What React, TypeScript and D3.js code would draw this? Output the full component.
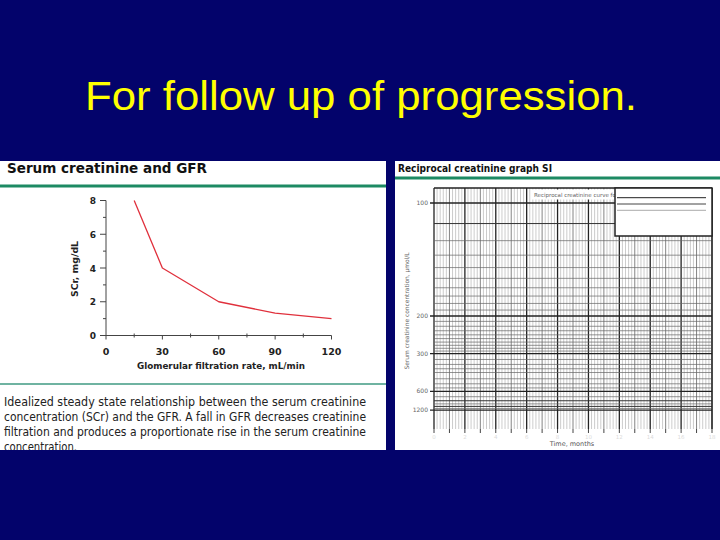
import * as d3 from "d3";

// slide text
const slideTitle = "For follow up of progression.";
const leftTitle = "Serum creatinine and GFR";
const rightTitle = "Reciprocal creatinine graph SI";
const caption = [
  "Idealized steady state relationship between the serum creatinine",
  "concentration (SCr) and the GFR. A fall in GFR decreases creatinine",
  "filtration and produces a proportionate rise in the serum creatinine",
  "concentration.",
];

// left chart: SCr vs GFR
const gfr = [15, 30, 60, 90, 120];
const scr = [8, 4, 2, 1.33, 1];
const gfrTicks = [0, 30, 60, 90, 120];
const gfrMinor = [15, 45, 75, 105];
const scrTicks = [0, 2, 4, 6, 8];
const scrMinor = [1, 3, 5, 7];

// right chart: reciprocal creatinine grid (umol/L)
const concLabels = [100, 200, 300, 600, 1200];
const concMedium = [110, 800, 1000];
const concGrid = [
  120, 130, 140, 150, 160, 170, 180, 190,
  210, 220, 230, 240, 250, 260, 270, 280, 290,
  325, 350, 375, 400, 450, 500, 550,
  700, 900, 1100,
];
const monthDomain = [0, 18];
const monthLabels = [0, 2, 4, 6, 8, 10, 12, 14, 16, 18];

const NAVY = "#03036b";
const GREEN = "#1c8a63";
const SANS = "'DejaVu Sans', Verdana, sans-serif";

export default function App() {
  // left scales
  const x = d3.scaleLinear().domain([0, 120]).range([106, 331.5]);
  const y = d3.scaleLinear().domain([0, 8]).range([335.5, 200.5]);
  const path =
    d3
      .line<number>()
      .x((_, i) => x(gfr[i]))
      .y((d) => y(d))(scr) || "";

  // right scales: linear in 1/concentration
  const t = d3.scaleLinear().domain(monthDomain).range([434, 712]);
  const r = d3.scaleLinear().domain([0, 0.010664]).range([429, 188]);
  const cy = (c: number) => r(1 / c);
  const monthLines = t.ticks(90);
  const months = t.ticks(18);

  return (
    <svg
      width={720}
      height={540}
      style={{ position: "fixed", left: 0, top: 0 }}
    >
      <defs>
        <clipPath id="leftClip">
          <rect x={0} y={161} width={386} height={289} />
        </clipPath>
        <clipPath id="rightClip">
          <rect x={395} y={161} width={325} height={289} />
        </clipPath>
      </defs>
      <rect width={720} height={540} fill={NAVY} />
      <text
        x={85}
        y={110}
        fill="#ffff00"
        fontFamily="'Liberation Sans', Arial, sans-serif"
        fontSize={40}
        textLength={552}
        lengthAdjust="spacingAndGlyphs"
      >
        {slideTitle}
      </text>

      {/* left panel */}
      <g clipPath="url(#leftClip)">
        <rect x={0} y={161} width={386} height={289} fill="#fff" />
        <text
          x={7}
          y={173}
          fontFamily={SANS}
          fontWeight="bold"
          fontSize={13.5}
          fill="#111"
          textLength={200}
          lengthAdjust="spacingAndGlyphs"
        >
          {leftTitle}
        </text>
        <line x1={0} x2={386} y1={186} y2={186} stroke={GREEN} strokeWidth={3} />

        <line x1={x(0)} x2={x(120)} y1={y(0)} y2={y(0)} stroke="#444" />
        <line x1={x(0)} x2={x(0)} y1={y(0)} y2={y(8)} stroke="#444" />
        {scrTicks.map((v) => (
          <g key={"yt" + v}>
            <line x1={x(0) - 6} x2={x(0)} y1={y(v)} y2={y(v)} stroke="#444" />
            <text
              x={x(0) - 13}
              y={y(v) + 3.5}
              textAnchor="middle"
              fontFamily={SANS}
              fontWeight="bold"
              fontSize={9}
              fill="#222"
            >
              {v}
            </text>
          </g>
        ))}
        {scrMinor.map((v) => (
          <line key={"ym" + v} x1={x(0) - 3} x2={x(0)} y1={y(v)} y2={y(v)} stroke="#444" />
        ))}
        {gfrTicks.map((v) => (
          <g key={"xt" + v}>
            <line x1={x(v)} x2={x(v)} y1={y(0)} y2={y(0) + 4} stroke="#444" />
            <text
              x={x(v)}
              y={y(0) + 19}
              textAnchor="middle"
              fontFamily={SANS}
              fontWeight="bold"
              fontSize={9.5}
              fill="#222"
            >
              {v}
            </text>
          </g>
        ))}
        {gfrMinor.map((v) => (
          <line key={"xm" + v} x1={x(v)} x2={x(v)} y1={y(0) - 2} y2={y(0) + 2} stroke="#444" />
        ))}
        <text
          transform={`translate(78,269) rotate(-90)`}
          textAnchor="middle"
          fontFamily={SANS}
          fontWeight="bold"
          fontSize={9.5}
          fill="#222"
          textLength={56}
          lengthAdjust="spacingAndGlyphs"
        >
          SCr, mg/dL
        </text>
        <text
          x={221}
          y={369}
          textAnchor="middle"
          fontFamily={SANS}
          fontWeight="bold"
          fontSize={9.5}
          fill="#222"
          textLength={168}
          lengthAdjust="spacingAndGlyphs"
        >
          Glomerular filtration rate, mL/min
        </text>
        <path d={path} fill="none" stroke="#e0303c" strokeWidth={1.3} strokeLinejoin="round" />

        <line x1={0} x2={386} y1={384} y2={384} stroke="#3f9a82" strokeWidth={1.5} />
        {caption.map((c, i) => (
          <text
            key={"cap" + i}
            x={4}
            y={406 + i * 15}
            fontFamily={SANS}
            fontSize={12.5}
            fill="#222"
            textLength={i === 3 ? 73 : 362}
            lengthAdjust="spacingAndGlyphs"
          >
            {c}
          </text>
        ))}
      </g>

      {/* right panel */}
      <g clipPath="url(#rightClip)">
        <rect x={395} y={161} width={325} height={289} fill="#fff" />
        <text
          x={398}
          y={172}
          fontFamily={SANS}
          fontWeight="bold"
          fontSize={10}
          fill="#111"
          textLength={154}
          lengthAdjust="spacingAndGlyphs"
        >
          {rightTitle}
        </text>
        <line x1={395} x2={720} y1={178} y2={178} stroke={GREEN} strokeWidth={3} />

        {monthLines.map((m, i) => {
          const whole = Math.abs(m - Math.round(m)) < 1e-6;
          const even = whole && Math.round(m) % 2 === 0;
          return (
            <line
              key={"v" + i}
              x1={t(m)}
              x2={t(m)}
              y1={188}
              y2={429}
              stroke={even ? "#222" : whole ? "#777" : "#aaa"}
              strokeWidth={even ? 1.3 : whole ? 0.9 : 0.6}
            />
          );
        })}
        {concGrid.map((c) => (
          <line key={"h" + c} x1={434} x2={712} y1={cy(c)} y2={cy(c)} stroke="#666" strokeWidth={0.7} />
        ))}
        {concMedium.map((c) => (
          <line key={"hm" + c} x1={434} x2={712} y1={cy(c)} y2={cy(c)} stroke="#333" strokeWidth={1} />
        ))}
        {concLabels.map((c) => (
          <g key={"hl" + c}>
            <line x1={430} x2={712} y1={cy(c)} y2={cy(c)} stroke="#222" strokeWidth={1.3} />
            <text
              x={428}
              y={cy(c) + 2}
              textAnchor="end"
              fontFamily={SANS}
              fontSize={6}
              fill="#666"
            >
              {c}
            </text>
          </g>
        ))}
        <line x1={434} x2={712} y1={188} y2={188} stroke="#222" strokeWidth={1.5} />
        <line x1={712} x2={712} y1={188} y2={429} stroke="#222" strokeWidth={1} />

        {months.map((m) => (
          <line key={"mt" + m} x1={t(m)} x2={t(m)} y1={429} y2={433} stroke="#444" />
        ))}
        {monthLabels.map((m) => (
          <text
            key={"ml" + m}
            x={t(m)}
            y={439}
            textAnchor="middle"
            fontFamily={SANS}
            fontSize={5.5}
            fill="#dcdcdc"
          >
            {m}
          </text>
        ))}
        <text
          x={572}
          y={446}
          textAnchor="middle"
          fontFamily={SANS}
          fontSize={6.5}
          fill="#555"
        >
          Time, months
        </text>
        <text
          transform={`translate(409,311) rotate(-90)`}
          textAnchor="middle"
          fontFamily={SANS}
          fontSize={6}
          fill="#666"
          textLength={117}
          lengthAdjust="spacingAndGlyphs"
        >
          Serum creatinine concentration, μmol/L
        </text>

        {/* legend */}
        <rect x={532} y={189.5} width={83} height={10} fill="#fff" />
        <text x={534} y={197} fontFamily={SANS} fontSize={5.5} fill="#666">
          Reciprocal creatinine curve for
        </text>
        <rect x={615} y={188} width={97} height={48} fill="#fff" stroke="#222" strokeWidth={1.5} />
        <line x1={617} x2={706} y1={197.7} y2={197.7} stroke="#222" strokeWidth={1} />
        <line x1={617} x2={706} y1={204} y2={204} stroke="#444" strokeWidth={1} />
        <line x1={617} x2={706} y1={210.3} y2={210.3} stroke="#aaa" strokeWidth={1} />
      </g>
    </svg>
  );
}
